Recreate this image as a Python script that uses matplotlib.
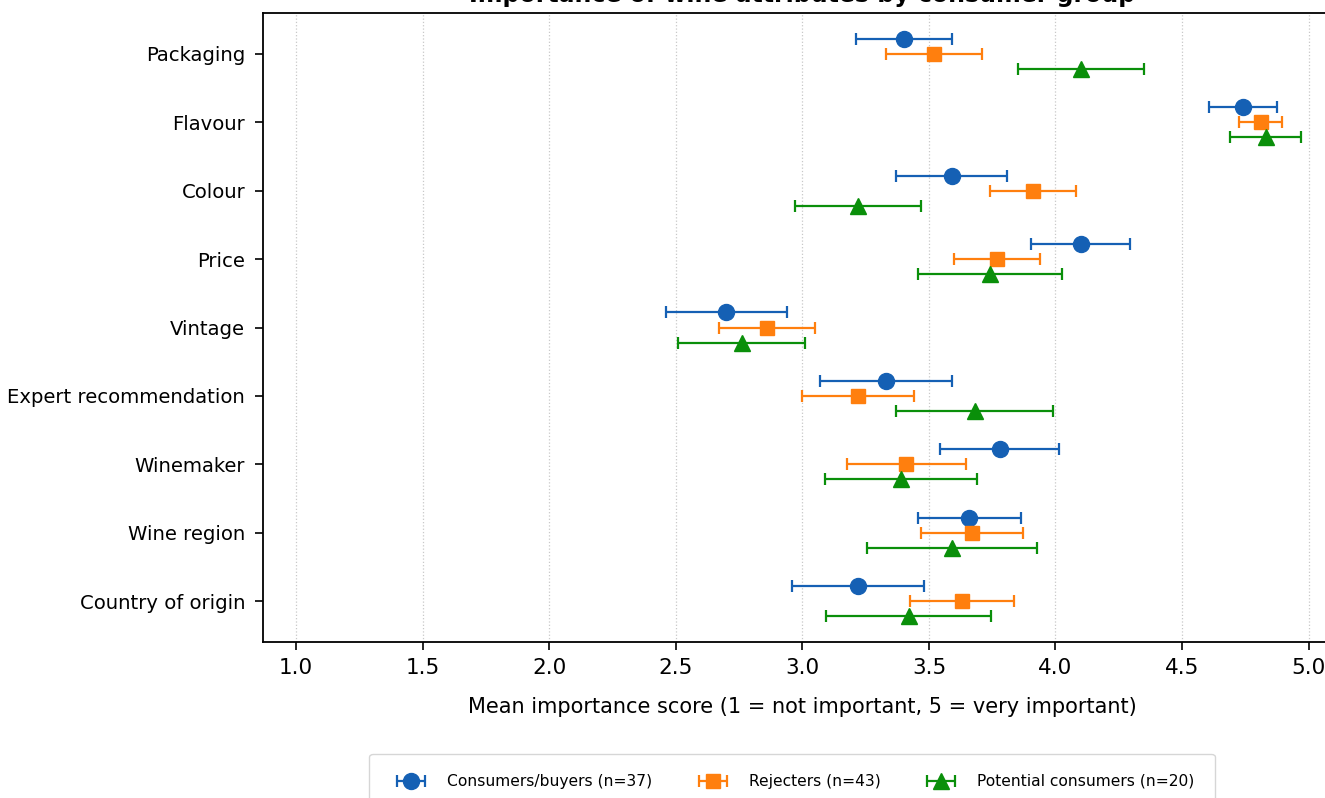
import matplotlib
matplotlib.use("Agg")
import matplotlib.pyplot as plt
from matplotlib.legend_handler import HandlerErrorbar
from matplotlib.container import ErrorbarContainer
import numpy as np

categories = ["Packaging", "Flavour", "Colour", "Price", "Vintage",
              "Expert recommendation", "Winemaker", "Wine region", "Country of origin"]

groups = ["Consumers/buyers (n=37)", "Rejecters (n=43)", "Potential consumers (n=20)"]

consumers_mean = [3.40, 4.74, 3.59, 4.10, 2.70, 3.33, 3.78, 3.66, 3.22]
consumers_err = [0.19, 0.135, 0.22, 0.195, 0.24, 0.26, 0.235, 0.205, 0.26]

rejecters_mean = [3.52, 4.81, 3.91, 3.77, 2.86, 3.22, 3.41, 3.67, 3.63]
rejecters_err = [0.19, 0.085, 0.17, 0.17, 0.19, 0.22, 0.235, 0.20, 0.205]

potential_mean = [4.10, 4.83, 3.22, 3.74, 2.76, 3.68, 3.39, 3.59, 3.42]
potential_err = [0.25, 0.14, 0.25, 0.285, 0.25, 0.31, 0.30, 0.335, 0.325]

xticks = [1.0, 1.5, 2.0, 2.5, 3.0, 3.5, 4.0, 4.5, 5.0]

plt.rcParams['font.family'] = ['DejaVu Sans']

fig = plt.figure(figsize=(13.25, 7.98), dpi=100)
# axes extends slightly past right edge (reference is cropped)
ax = fig.add_axes([263.3 / 1325, 1 - 642.3 / 798, (1341.5 - 263.3) / 1325, (642.3 - 12.7) / 798])

y = np.arange(len(categories))
offset = 0.22
series = [
    (consumers_mean, consumers_err, '#1560b4', 'o', 11.5, -offset),
    (rejecters_mean, rejecters_err, '#ff7f0e', 's', 10.5, 0.0),
    (potential_mean, potential_err, '#0a8f0a', '^', 11.5, offset),
]
for (m, e, c, mk, ms, off), label in zip(series, groups):
    ax.errorbar(m, y + off, xerr=e, fmt=mk, color=c, ecolor=c, markersize=ms,
                capsize=4, elinewidth=1.6, capthick=1.6, label=label, zorder=3)

ax.set_yticks(y)
ax.set_yticklabels(categories, fontsize=14.1)
ax.set_ylim(8.6, -0.6)
ax.set_xlim(0.87, 5.13)
ax.set_xticks(xticks)
ax.set_xticklabels([f"{v:.1f}" for v in xticks], fontsize=15.5)
ax.tick_params(axis='y', length=6, width=1.2, pad=7)
ax.tick_params(axis='x', length=6, width=1.2, pad=5)
ax.xaxis.grid(True, linestyle=':', color='#c8c8c8', linewidth=0.9)
ax.set_axisbelow(True)
for s in ax.spines.values():
    s.set_linewidth(1.3)

ax.set_xlabel("Mean importance score (1 = not important, 5 = very important)",
              fontsize=15, labelpad=14)
ax.set_title("Importance of wine attributes by consumer group",
             fontsize=17, fontweight='bold', pad=7.5)

fig.legend(loc='upper center', bbox_to_anchor=(792 / 1325, 1 - 746 / 798), ncol=3,
           fontsize=11.2, frameon=True, borderpad=1.3, columnspacing=2.5,
           handlelength=2.8, handletextpad=0.9, fancybox=True, edgecolor='#cccccc',
           handler_map={ErrorbarContainer: HandlerErrorbar(xerr_size=0.9)})

fig.savefig("out.png", dpi=100)
